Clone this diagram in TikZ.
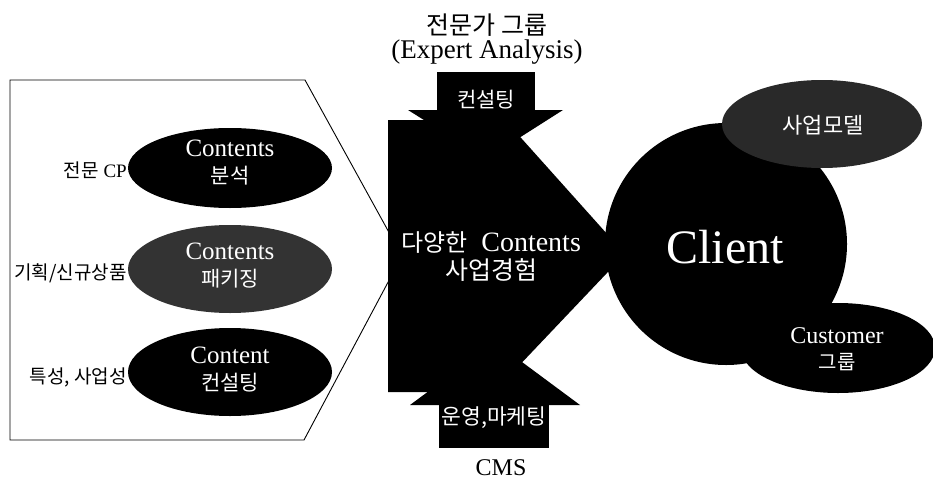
\documentclass[tikz,border=0pt]{standalone}
\usepackage{fontspec}
\setmainfont{Liberation Serif}
\newfontfamily\krfont{Noto Sans CJK KR}
\usetikzlibrary{shapes.geometric}
\begin{document}
\begin{tikzpicture}[x=1pt,y=-1pt,
  blob/.style={ellipse,fill=black,draw=none,inner sep=0pt},
  wtxt/.style={text=white,align=center,inner sep=0pt},
  btxt/.style={text=black,align=center,inner sep=0pt},
  side/.style={text=black,anchor=east,inner sep=0pt,font=\fontsize{19}{22}\selectfont}]
\useasboundingbox (0,0) rectangle (933,479);
% left panel
\draw[line width=0.9pt] (10,80) -- (305,80) -- (402,256) -- (304,440) -- (10,440) -- cycle;
% left ellipses
\node[blob,minimum width=204,minimum height=80] (e1) at (230,168) {};
\node[blob,fill=black!80,minimum width=204,minimum height=88] (e2) at (230,269) {};
\node[blob,minimum width=204,minimum height=88] (e3) at (230,372) {};
\node[wtxt,font=\fontsize{25}{27}\selectfont] (t1) at (230,163) {Contents\\{\krfont\fontsize{21}{27}\selectfont 분석}};
\node[wtxt,font=\fontsize{25}{27}\selectfont] (t2) at (230,266) {Contents\\{\krfont\fontsize{21}{27}\selectfont 패키징}};
\node[wtxt,font=\fontsize{25}{27}\selectfont] (t3) at (230,370) {Content\\{\krfont\fontsize{21}{27}\selectfont 컨설팅}};
\node[side] (s1) at (127,170) {{\krfont 전문} CP};
\node[side] (s2) at (127,273) {\krfont 기획/신규상품};
\node[side] (s3) at (127,377) {\krfont 특성, 사업성};
% central black shape
\fill[black] (388,120) -- (505,120) -- (625,254) -- (494,392) -- (388,392) -- cycle;
% top arrow
\fill[black] (437,72) rectangle (535,110);
\fill[black] (408,110) -- (563,110) -- (486,159) -- cycle;
% bottom arrow
\fill[black] (439,405) rectangle (549,448);
\fill[black] (410,405) -- (580,405) -- (495,342) -- cycle;
% client cluster
\node[circle,fill=black,inner sep=0pt,minimum size=242] (client) at (726,244) {};
\node[blob,fill=black!84,minimum width=200,minimum height=88] (model) at (822,124) {};
\node[blob,minimum width=194,minimum height=90] (cust) at (838,348) {};
% texts
\node[btxt,font=\krfont\fontsize{25}{28}\selectfont] (title) at (487,25) {전문가 그룹};
\node[btxt,font=\fontsize{27}{30}\selectfont] (title2) at (487,52) {(Expert Analysis)};
\node[wtxt,font=\krfont\fontsize{21}{24}\selectfont] (consult) at (486,100) {컨설팅};
\node[wtxt,font=\fontsize{28}{28}\selectfont] (mid) at (491,257) {{\krfont\fontsize{24}{28}\selectfont 다양한}\ \ Contents\\{\krfont\fontsize{25}{28}\selectfont 사업경험}};
\node[wtxt,font=\krfont\fontsize{21.5}{24}\selectfont] (ops) at (494,418) {운영,마케팅};
\node[btxt,font=\fontsize{24}{26}\selectfont,anchor=base] (cms) at (501,475) {CMS};
\node[wtxt,font=\fontsize{48}{50}\selectfont] (clienttxt) at (725,247) {Client};
\node[wtxt,font=\krfont\fontsize{22}{24}\selectfont] (modeltxt) at (823,125) {사업모델};
\node[wtxt,font=\fontsize{24}{26}\selectfont] (custtxt) at (837,349) {Customer\\{\krfont\fontsize{20}{26}\selectfont 그룹}};
\end{tikzpicture}
\end{document}
